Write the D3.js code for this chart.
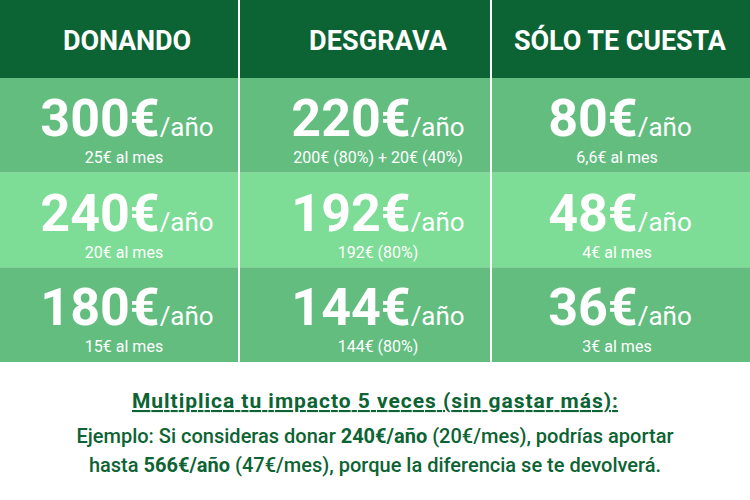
<!DOCTYPE html>
<html><head><meta charset="utf-8">
<script src="https://cdn.jsdelivr.net/npm/d3@7"></script>
<style>body{margin:0;background:#fff}text{font-family:"Roboto",sans-serif}</style>
</head><body><svg id="c" width="750" height="500"></svg>
<script>
const headers = ["DONANDO","DESGRAVA","SÓLO TE CUESTA"];
const donations = [300,240,180];
const donationNotes = ["25€ al mes","20€ al mes","15€ al mes"];
const deductions = [220,192,144];
const deductionNotes = ["200€ (80%) + 20€ (40%)","192€ (80%)","144€ (80%)"];
const costs = [80,48,36];
const costNotes = ["6,6€ al mes","4€ al mes","3€ al mes"];
const rowIdx = [0,1,2];

const svg = d3.select("#c");
const green = "#0c6333";
const rowColors = ["#62bd7f","#7ddc95","#62bd7f"];
const y = d3.scaleBand().domain(rowIdx).range([78,362]);

svg.append("rect").attr("x",0).attr("y",0).attr("width",750).attr("height",78).attr("fill",green);
rowIdx.forEach(r=>svg.append("rect").attr("x",0).attr("y",y(r)).attr("width",750).attr("height",y.bandwidth()).attr("fill",rowColors[r]));
[239,491].forEach(v=>svg.append("rect").attr("x",v-1).attr("y",0).attr("width",2).attr("height",362).attr("fill","#fff"));

const centers=[127,378,620];
headers.forEach((h,i)=>svg.append("text").attr("x",centers[i]).attr("y",50).attr("text-anchor","middle")
  .attr("fill","#fff").attr("font-size",27).attr("font-weight","bold").attr("textLength",i==2?212:(i==0?128:138)).text(h));

const cols=[[donations,donationNotes],[deductions,deductionNotes],[costs,costNotes]];
cols.forEach(([vals,notes],c)=>{
  rowIdx.forEach(r=>{
    const yy=y(r);
    const t=svg.append("text").attr("x",centers[c]).attr("y",yy+58).attr("text-anchor","middle").attr("fill","#fff");
    t.append("tspan").attr("font-size",52).attr("font-weight","bold").text(vals[r]+"€");
    t.append("tspan").attr("font-size",26).text("/año");
    svg.append("text").attr("x",centers[c]-(c==1?0:3)).attr("y",yy+85).attr("text-anchor","middle").attr("fill","#fff")
      .attr("font-size",16).text(notes[r]);
  });
});

svg.append("text").attr("x",375).attr("y",408).attr("text-anchor","middle").attr("fill",green)
  .attr("font-size",21).attr("font-weight","bold").attr("text-decoration","underline").attr("textLength",486).text("Multiplica tu impacto 5 veces (sin gastar más):");
const l1=svg.append("text").attr("x",375).attr("y",443).attr("text-anchor","middle").attr("fill",green).attr("font-size",20).attr("font-weight",500);
l1.append("tspan").text("Ejemplo: Si consideras donar ");
l1.append("tspan").attr("font-weight","bold").text("240€/año");
l1.append("tspan").text(" (20€/mes), podrías aportar");
const l2=svg.append("text").attr("x",375).attr("y",472).attr("text-anchor","middle").attr("fill",green).attr("font-size",20).attr("font-weight",500);
l2.append("tspan").text("hasta ");
l2.append("tspan").attr("font-weight","bold").text("566€/año");
l2.append("tspan").text(" (47€/mes), porque la diferencia se te devolverá.");
</script></body></html>
